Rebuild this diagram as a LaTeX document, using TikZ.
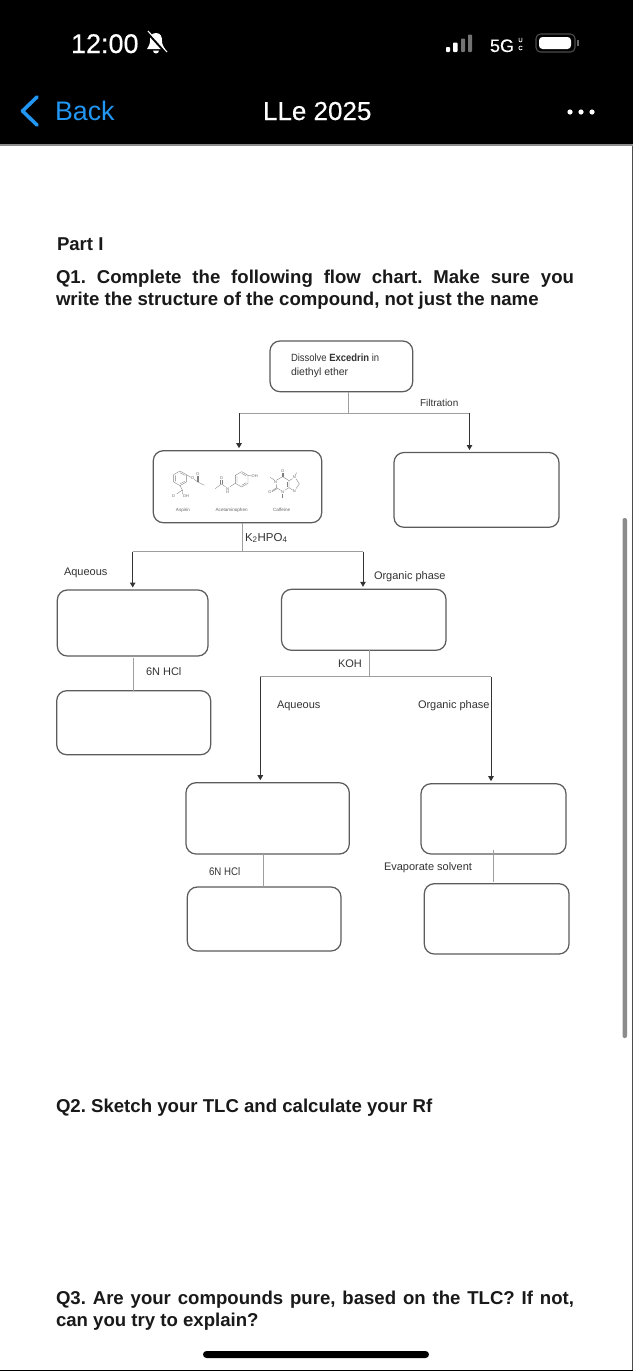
\documentclass[tikz,border=0pt]{standalone}
\usepackage{fontspec}
\usepackage{graphicx}
\setmainfont{Liberation Sans}
\newfontfamily\barfont[FakeBold=0.35]{Liberation Sans}
\usetikzlibrary{arrows.meta}
\definecolor{boxline}{gray}{0.36}
\definecolor{stemline}{gray}{0.62}
\definecolor{labeltext}{gray}{0.2}
\definecolor{iosblue}{HTML}{2196F3}
\newcommand{\pxfont}[1]{\fontsize{#1}{#1}\selectfont}
\newcommand{\blank}[5]{\node[flowbox,minimum width={#4-#2},minimum height={#5-#3}] (#1) at ({(#2+#4)/2},{-(#3+#5)/2}) {};}
\frenchspacing
\tikzset{
  x=1pt,y=1pt,
  flowbox/.style={draw=boxline,line width=1.25pt,rounded corners=10pt,inner sep=0pt,outer sep=0pt,fill=white},
  stem/.style={draw=stemline,line width=0.9pt},
  branch/.style={draw=black!80,line width=1pt,-{Triangle[length=5pt,width=5.5pt]},shorten >=2.5pt},
  lbl/.style={anchor=base west,inner sep=0pt,outer sep=0pt,text=labeltext,font=\pxfont{11}},
  para/.style={anchor=base west,inner sep=0pt,outer sep=0pt,text=black!90,font=\pxfont{18.6}\bfseries},
  bar/.style={anchor=base west,inner sep=0pt,outer sep=0pt,text=white},
  bond/.style={draw=black!50,line width=0.35pt},
  atom/.style={inner sep=0pt,text=black!60,font=\pxfont{4}},
  molname/.style={anchor=base,inner sep=0pt,text=black!60,font=\pxfont{4.6}},
}
\begin{document}
\begin{tikzpicture}
\useasboundingbox (0,0) rectangle (633,-1371);
\fill[white] (0,0) rectangle (633,-1371);
% header
\fill[black] (0,0) rectangle (633,-144);
\fill[black!45] (0,-144) rectangle (633,-146);
\fill[black!70] (632,-146) rectangle (633,-1371);
\fill[black] (0,-1370) rectangle (633,-1371);
\node[bar,font=\pxfont{27}\barfont] (clock) at (71,-53) {12:00};
\node[bar,font=\pxfont{26.8},text=iosblue] (back) at (55,-120) {Back};
\node[bar,font=\pxfont{26}\barfont] (title) at (263,-120) {LLe 2025};
\node[bar,font=\pxfont{18}\barfont] (net) at (490,-52) {5G};
\node[inner sep=0pt,outer sep=0pt,text=white,align=center,font=\pxfont{6}\barfont] (netuc) at (520.5,-44) {U\\[2pt]C};
% chevron
\draw[iosblue,line width=3.6pt,line cap=round,line join=round] (37,-97) -- (22.5,-111) -- (37,-125);
% dots
\foreach \dx in {570,581,592} \fill[white] (\dx,-112) circle (2.6);
% bell
\fill[white] (156,-33) .. controls (151,-33) and (150,-37) .. (150,-41) .. controls (150,-45) and (148,-47) .. (147,-49) -- (165,-49) .. controls (164,-47) and (162,-45) .. (162,-41) .. controls (162,-37) and (161,-33) .. (156,-33) -- cycle;
\fill[white] (153,-50.5) -- (159,-50.5) arc (0:-180:3) -- cycle;
\draw[black,line width=2.4pt] (147,-32) -- (166,-53);
\draw[white,line width=1.1pt] (148,-31) -- (167,-52);
% signal
\fill[white,rounded corners=0.8pt] (446,-47) rectangle (450,-52);
\fill[white,rounded corners=0.8pt] (453,-42.5) rectangle (457.5,-52);
\fill[black!55,rounded corners=0.8pt] (461,-38.5) rectangle (465,-52);
\fill[black!55,rounded corners=0.8pt] (468,-34.5) rectangle (472,-52);
% battery
\draw[black!70,line width=1.1pt,rounded corners=4.5pt] (536,-34) rectangle (575,-52);
\fill[white,rounded corners=3.5pt] (539,-37) rectangle (571,-49);
\fill[black!60] (577,-40) rectangle (579,-46);
% scrollbar, home bar
\fill[black!45,rounded corners=2pt] (622.5,-518) rectangle (627,-1038);
\fill[black,rounded corners=3.5pt] (203,-1351) rectangle (429,-1358);
% paragraphs
\node[para] (part) at (57,-250) {Part I};
\node[para] (q1a) at (56,-283) {\makebox[518pt][s]{Q1. Complete the following flow chart. Make sure you}};
\node[para] (q1b) at (56,-305) {write the structure of the compound, not just the name};
\node[para] (q2) at (56,-1112) {Q2. Sketch your TLC and calculate your Rf};
\node[para] (q3a) at (56,-1304) {\makebox[518pt][s]{Q3. Are your compounds pure, based on the TLC? If not,}};
\node[para] (q3b) at (56,-1326) {can you try to explain?};
% boxes
\blank{start}{270}{341}{412.7}{391.7}
\blank{mix}{153.3}{450.7}{321.7}{522.7}
\blank{solid}{394}{452.5}{559}{527.3}
\blank{aq}{57.3}{590}{208}{656}
\blank{aqacid}{56.7}{690.7}{210.7}{754.7}
\blank{org}{281.5}{589.3}{446}{650.3}
\blank{aqtwo}{186}{782.7}{349.3}{854}
\blank{orgtwo}{421}{783.7}{566}{854}
\blank{aqtwoacid}{187.3}{887}{341}{951}
\blank{orgdry}{424.3}{883.7}{569}{954}
% junctions
\coordinate (fj) at (348.5,-413.3);
\coordinate (fl) at (239,-413.3);
\coordinate (fr) at (469.5,-413.3);
\coordinate (kj) at (242.5,-551.5);
\coordinate (kl) at (132.7,-551.5);
\coordinate (kr) at (363,-551.5);
\coordinate (hj) at (369,-676.8);
\coordinate (hl) at (260.3,-676.8);
\coordinate (hr) at (491,-676.8);
\coordinate (aj) at (133,-658);
\coordinate (bj) at (263.3,-860);
\coordinate (ej) at (493.3,-850);
\coordinate (ee) at (493.3,-881.7);
% connectors
\draw[stem] (start.south -| fj) -- (fj);
\draw[stem] (fl) -- (fr);
\draw[branch] (fl) -- (mix.north -| fl);
\draw[branch] (fr) -- (solid.north -| fr);
\draw[stem] (mix.south -| kj) -- (kj);
\draw[stem] (kl) -- (kr);
\draw[branch] (kl) -- (aq.north -| kl);
\draw[branch] (kr) -- (org.north -| kr);
\draw[stem] (aj) -- (aqacid.north -| aj);
\draw[stem] (org.south -| hj) -- (hj);
\draw[stem] (hl) -- (hr);
\draw[branch] (hl) -- (aqtwo.north -| hl);
\draw[branch] (hr) -- (orgtwo.north -| hr);
\draw[stem] (aqtwo.south -| bj) -- (aqtwoacid.north -| bj);
\draw[stem] (ej) -- (ee);
% labels
\node[lbl,font=\pxfont{10.5}] (t1) at (291,-361) {\scalebox{0.9}[1]{Dissolve \textbf{Excedrin} in}};
\node[lbl,font=\pxfont{10.5}] (t2) at (291,-375) {diethyl ether};
\node[lbl,font=\pxfont{10}] (t3) at (420,-406) {Filtration};
\node[lbl,font=\pxfont{11.5}] (t4) at (245,-541) {K\textsubscript{2}HPO\textsubscript{4}};
\node[lbl] (t5) at (64,-575) {Aqueous};
\node[lbl] (t6) at (374,-579) {Organic phase};
\node[lbl] (t7) at (146,-675) {6N HCl};
\node[lbl] (t8) at (338,-667) {KOH};
\node[lbl] (t9) at (277,-708) {Aqueous};
\node[lbl] (t10) at (418,-708) {Organic phase};
\node[lbl] (t11) at (209,-875) {\scalebox{0.88}[1]{6N HCl}};
\node[lbl] (t12) at (384,-870) {Evaporate solvent};
% molecules, in units of a third of a pixel
\begin{scope}[shift={(140,-330)},x=0.3333pt,y=-0.3333pt]
 % aspirin
 \draw[bond] (120,423) -- (139,434) -- (139,456) -- (120,467) -- (101,456) -- (101,434) -- cycle;
 \draw[bond] (120,428) -- (134,436) (134,454) -- (120,462) (106,454) -- (106,436);
 \draw[bond] (139,434) -- (153,442) (163,448) -- (173,456) -- (193,466);
 \draw[bond] (171,456) -- (171,438) (175,456) -- (175,438);
 \draw[bond] (120,467) -- (127,480);
 \draw[bond] (127,480) -- (110,492) (127,480) -- (128,492);
 \node[atom] (o1) at (158,445) {O};
 \node[atom] (o2) at (173,432) {O};
 \node[atom] (o3) at (100,497) {O};
 \node[atom] (o4) at (138,497) {OH};
 % acetaminophen
 \draw[bond] (305,425) -- (324,436) -- (324,460) -- (305,471) -- (286,460) -- (286,436) -- cycle;
 \draw[bond] (305,430) -- (319,438) (319,458) -- (305,466) (291,458) -- (291,438);
 \draw[bond] (324,436) -- (335,438);
 \draw[bond] (286,460) -- (270,470);
 \draw[bond] (256,470) -- (244,462) -- (226,476);
 \draw[bond] (242,462) -- (242,450) (246,462) -- (246,450);
 \node[atom] (o5) at (344,437) {OH};
 \node[atom] (n1) at (263,478) {N};
 \node[atom] (h1) at (263,487) {H};
 \node[atom] (o6) at (244,444) {O};
 % caffeine
 \draw[bond] (428,440) -- (447,452) -- (447,473) -- (434,481) (422,481) -- (410,473) -- (410,463) (410,450) -- (414,448) -- (428,440);
 \draw[bond] (447,452) -- (458,446) (468,446) -- (478,462) -- (468,476) (458,480) -- (447,473);
 \draw[bond] (426,440) -- (426,428) (430,440) -- (430,428);
 \draw[bond] (443,456) -- (443,470);
 \draw[bond] (410,473) -- (396,482) (411,476) -- (397,485);
 \draw[bond] (404,451) -- (391,442);
 \draw[bond] (428,491) -- (428,503);
 \draw[bond] (465,437) -- (470,428);
 \node[atom] (o7) at (428,422) {O};
 \node[atom] (n2) at (463,442) {N};
 \node[atom] (n3) at (463,482) {N};
 \node[atom] (n4) at (407,456) {N};
 \node[atom] (n5) at (428,486) {N};
 \node[atom] (o8) at (390,486) {O};
 \node[molname] (m1) at (129,546) {Aspirin};
 \node[molname] (m2) at (275,546) {Acetaminophen};
 \node[molname] (m3) at (425,546) {Caffeine};
\end{scope}
\end{tikzpicture}
\end{document}
